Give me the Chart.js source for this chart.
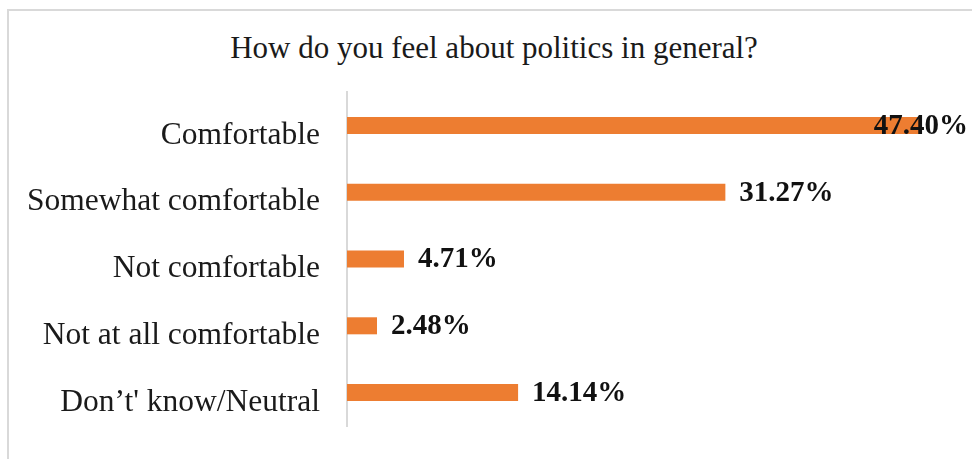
<!DOCTYPE html>
<html>
<head>
<meta charset="utf-8">
<title>Politics survey</title>
<script src="https://cdn.jsdelivr.net/npm/chart.js@4.4.1/dist/chart.umd.min.js"></script>
<style>
    html, body { margin: 0; padding: 0; background: #fff; overflow: hidden; }
    #wrap { position: relative; width: 972px; height: 459px; overflow: hidden; }
    /* light frame around the chart, right and bottom edges run off the page */
    #frame { position: absolute; left: 7px; top: 9px; width: 1000px; height: 500px; border: 2px solid #d9d9d9; }
    #chartTitle {
        position: absolute; left: 0; top: 29px; width: 988px;
        text-align: center; white-space: nowrap;
        font: 31px/37px "Liberation Serif", "Times New Roman", serif;
        color: #1a1a1a;
    }
    #surveyChart { position: absolute; left: 0; top: 0; }
</style>
</head>
<body>
<div id="wrap">
    <div id="frame"></div>
    <div id="chartTitle"></div>
    <canvas id="surveyChart" width="972" height="459"></canvas>
</div>
<script>
const chartTitle = 'How do you feel about politics in general?';
const answers = ['Comfortable', 'Somewhat comfortable', 'Not comfortable', 'Not at all comfortable', "Don’t' know/Neutral"];
const shares = [47.40, 31.27, 4.71, 2.48, 14.14];

const SERIF = '"Liberation Serif", "Times New Roman", serif';
const BAR_COLOR = '#ED7D31';

document.getElementById('chartTitle').textContent = chartTitle;

// percentage labels at the end of each bar, pushed back inside the canvas when too long
const valueLabels = {
    id: 'valueLabels',
    afterDatasetsDraw(chart) {
        const ctx = chart.ctx;
        const meta = chart.getDatasetMeta(0);
        ctx.save();
        ctx.font = 'bold 29px ' + SERIF;
        ctx.fillStyle = '#111';
        ctx.textBaseline = 'middle';
        ctx.textAlign = 'left';
        meta.data.forEach((bar, i) => {
            const text = shares[i].toFixed(2) + '%';
            const w = ctx.measureText(text).width;
            let x = bar.x + 14;
            if (x + w > chart.width - 4) x = chart.width - 4 - w;
            ctx.fillText(text, x, bar.y + 1);
        });
        ctx.restore();
    }
};

const ctx = document.getElementById('surveyChart').getContext('2d');
new Chart(ctx, {
    type: 'bar',
    data: {
        labels: answers,
        datasets: [{
            data: shares,
            backgroundColor: BAR_COLOR,
            borderWidth: 0,
            categoryPercentage: 1,
            barPercentage: 0.255
        }]
    },
    plugins: [valueLabels],
    options: {
        indexAxis: 'y',
        responsive: false,
        animation: false,
        devicePixelRatio: 1,
        layout: { padding: { left: 0, right: 20, top: 92, bottom: 33 } },
        scales: {
            x: {
                display: false,
                min: 0,
                max: 50
            },
            y: {
                // tick marks hidden, tickLength only keeps the labels off the axis
                grid: { display: false, drawTicks: true, tickLength: 27 },
                border: { color: '#d9d9d9', width: 2 },
                ticks: {
                    color: '#1a1a1a',
                    padding: 0,
                    labelOffset: 10,
                    font: { family: SERIF, size: 31.5 }
                },
                afterFit(scale) { scale.width = 347; }
            }
        },
        plugins: {
            legend: { display: false },
            tooltip: { enabled: false },
            title: { display: false }
        }
    }
});
</script>
</body>
</html>
